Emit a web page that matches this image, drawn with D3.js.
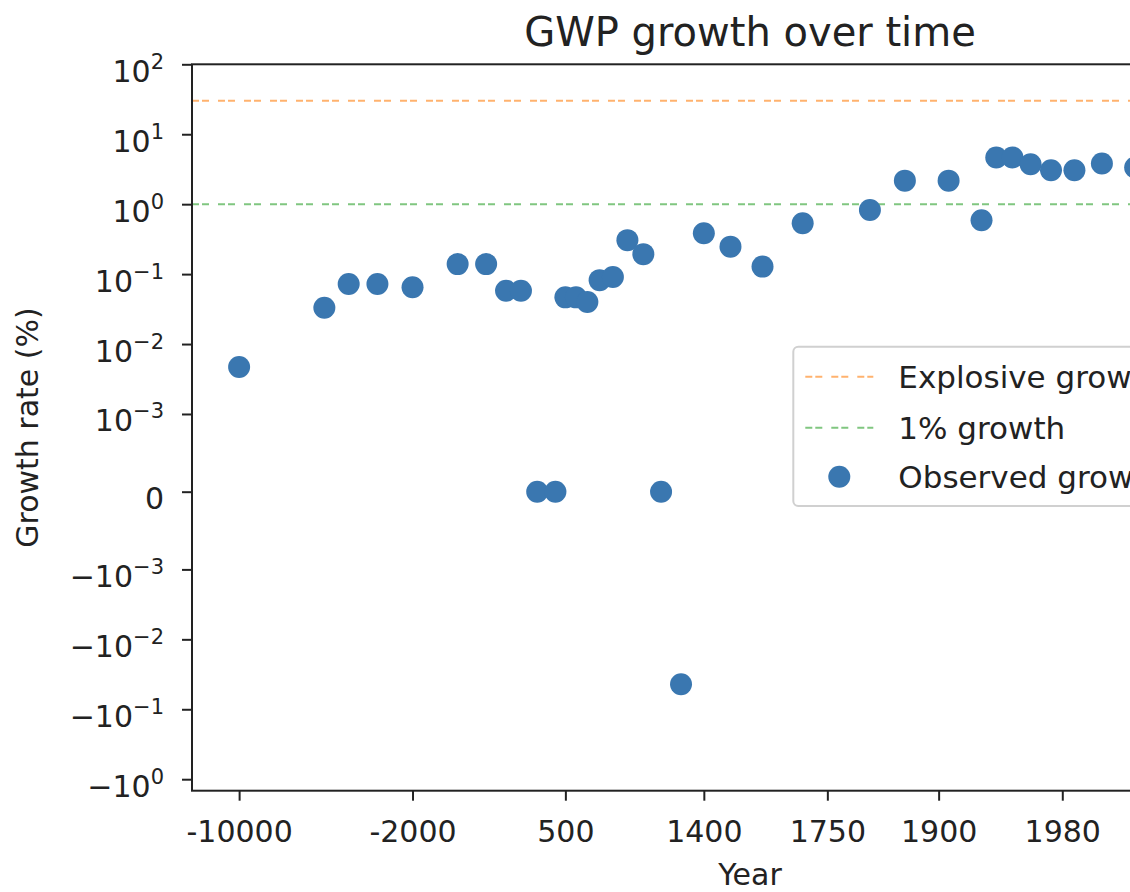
<!DOCTYPE html>
<html>
<head>
<meta charset="utf-8">
<script src="https://cdn.jsdelivr.net/npm/d3@7"></script>
<style>
  body { margin: 0; background: #fff; }
  svg text { font-family: "DejaVu Sans", sans-serif; fill: #222; }
</style>
</head>
<body>
<svg id="chart" width="1130" height="892"></svg>
<script>
// Observed gross world product growth, one point per period
const years  = [-10000, -5000, -4000, -3000, -2000, -1000, -500, -200, 1, 200, 400, 500, 600, 700,
                800, 900, 1000, 1100, 1200, 1300, 1400, 1500, 1600, 1700, 1820, 1865, 1909,
                1935, 1945, 1955, 1965, 1975, 1985, 1995, 2005];
const growth = [0.0047, 0.033, 0.072, 0.072, 0.065, 0.139, 0.139, 0.058, 0.058, 0, 0, 0.0465, 0.0465, 0.040,
                0.082, 0.091, 0.306, 0.193, 0, -0.044, 0.384, 0.247, 0.128, 0.533, 0.826, 2.17, 2.17,
                0.59, 4.64, 4.64, 3.73, 3.06, 3.06, 3.81, 3.34];

// Reference growth levels (%)
const explosiveRate = 30;
const onePercentRate = 1;

const xTickYears  = [-10000, -2000, 500, 1400, 1750, 1900, 1980];
const yTickValues = [100, 10, 1, 0.1, 0.01, 0.001, 0, -0.001, -0.01, -0.1, -1];
const legendLabels = ["Explosive growth", "1% growth", "Observed growth"];

const colors = { observed: "#3a77b0", explosive: "#ff7f0e", onePercent: "#2ca02c" };

const svg = d3.select("#chart");
const plot = { left: 192, right: 1308, top: 64.3, bottom: 790.7 };

// x: years placed on a log scale of time remaining to a reference year
const yearOrigin = 2048;
const xLog = d3.scaleLog()
  .domain([yearOrigin - (-14155), yearOrigin - 2033.5])
  .range([plot.left, plot.right]);
const xPos = yr => xLog(yearOrigin - yr);

// y: symmetric log (linear around zero, log beyond the threshold)
const linthresh = 1e-3, linscale = 1;
const linAdj = linscale / (1 - 1 / 10);
function symlog(v) {
  const a = Math.abs(v);
  if (a <= linthresh) return v * linAdj;
  return Math.sign(v) * linthresh * (linAdj + Math.log10(a / linthresh));
}
const yLin = d3.scaleLinear()
  .domain([symlog(-1.46), symlog(100)])
  .range([plot.bottom, plot.top]);
const yPos = v => yLin(symlog(v));

// reference lines
const refLines = [
  { value: explosiveRate, color: colors.explosive },
  { value: onePercentRate, color: colors.onePercent }
];
svg.append("g").selectAll("line").data(refLines).join("line")
  .attr("x1", plot.left).attr("x2", plot.right)
  .attr("y1", d => yPos(d.value)).attr("y2", d => yPos(d.value))
  .attr("stroke", d => d.color)
  .attr("stroke-opacity", 0.6)
  .attr("stroke-width", 2)
  .attr("stroke-dasharray", "7,3,7,9");

// observed points
const points = years.map((yr, i) => ({ year: yr, value: growth[i] }));
svg.append("g").selectAll("circle").data(points).join("circle")
  .attr("cx", d => xPos(d.year))
  .attr("cy", d => yPos(d.value))
  .attr("r", 11)
  .attr("fill", colors.observed);

// frame
svg.append("rect")
  .attr("x", plot.left).attr("y", plot.top)
  .attr("width", plot.right - plot.left).attr("height", plot.bottom - plot.top)
  .attr("fill", "none").attr("stroke", "#222").attr("stroke-width", 2);

// y axis
const yAxisG = svg.append("g")
  .attr("transform", `translate(${plot.left},0)`)
  .call(d3.axisLeft(yLin)
    .tickValues(yTickValues.map(symlog))
    .tickSize(10).tickSizeOuter(0)
    .tickFormat(() => ""));
yAxisG.select(".domain").remove();
yAxisG.selectAll(".tick line").attr("stroke", "#222").attr("stroke-width", 2);
yAxisG.selectAll(".tick text").remove();
yAxisG.selectAll(".tick").each(function (d, i) {
  const v = yTickValues[i];
  const t = d3.select(this).append("text")
    .attr("x", -28).attr("y", 17)
    .attr("text-anchor", "end")
    .style("font-size", "30px");
  if (v === 0) { t.text("0"); return; }
  const exp = Math.round(Math.log10(Math.abs(v)));
  t.append("tspan").text((v < 0 ? "\u2212" : "") + "10");
  t.append("tspan").attr("dy", -13).style("font-size", "21px")
    .text(exp < 0 ? "\u2212" + (-exp) : String(exp));
});

// x axis
const xAxisG = svg.append("g")
  .attr("transform", `translate(0,${plot.bottom})`)
  .call(d3.axisBottom(xLog)
    .tickValues(xTickYears.map(yr => yearOrigin - yr))
    .tickSize(10).tickSizeOuter(0)
    .tickFormat(d => String(Math.round(yearOrigin - d))));
xAxisG.select(".domain").remove();
xAxisG.selectAll(".tick line").attr("stroke", "#222").attr("stroke-width", 2);
xAxisG.selectAll(".tick text")
  .attr("y", 51).attr("dy", 0)
  .attr("fill", null)
  .style("font-size", "30px");

// titles
svg.append("text")
  .attr("x", (plot.left + plot.right) / 2).attr("y", 46)
  .attr("text-anchor", "middle").style("font-size", "40px")
  .text("GWP growth over time");
svg.append("text")
  .attr("x", (plot.left + plot.right) / 2).attr("y", 885)
  .attr("text-anchor", "middle").style("font-size", "30px")
  .text("Year");
svg.append("text")
  .attr("transform", `translate(38,${(plot.top + plot.bottom) / 2}) rotate(-90)`)
  .attr("text-anchor", "middle").style("font-size", "30px")
  .text("Growth rate (%)");

// legend
const legend = svg.append("g").attr("transform", "translate(793.3,346.7)");
legend.append("rect")
  .attr("width", 420).attr("height", 159.3).attr("rx", 5)
  .attr("fill", "#fff").attr("fill-opacity", 0.8)
  .attr("stroke", "#d0d0d0").attr("stroke-width", 2);
const rowY = [30, 81, 130];
const lineItems = [colors.explosive, colors.onePercent];
lineItems.forEach((c, i) => {
  legend.append("line")
    .attr("x1", 12).attr("x2", 80)
    .attr("y1", rowY[i]).attr("y2", rowY[i])
    .attr("stroke", c).attr("stroke-opacity", 0.6)
    .attr("stroke-width", 2).attr("stroke-dasharray", "7,3,7,9");
});
legend.append("circle")
  .attr("cx", 46).attr("cy", rowY[2]).attr("r", 11)
  .attr("fill", colors.observed);
legend.selectAll("text.lab").data(legendLabels).join("text")
  .attr("class", "lab")
  .attr("x", 105)
  .attr("y", (d, i) => rowY[i] + 11)
  .style("font-size", "31px")
  .text(d => d);
</script>
</body>
</html>
